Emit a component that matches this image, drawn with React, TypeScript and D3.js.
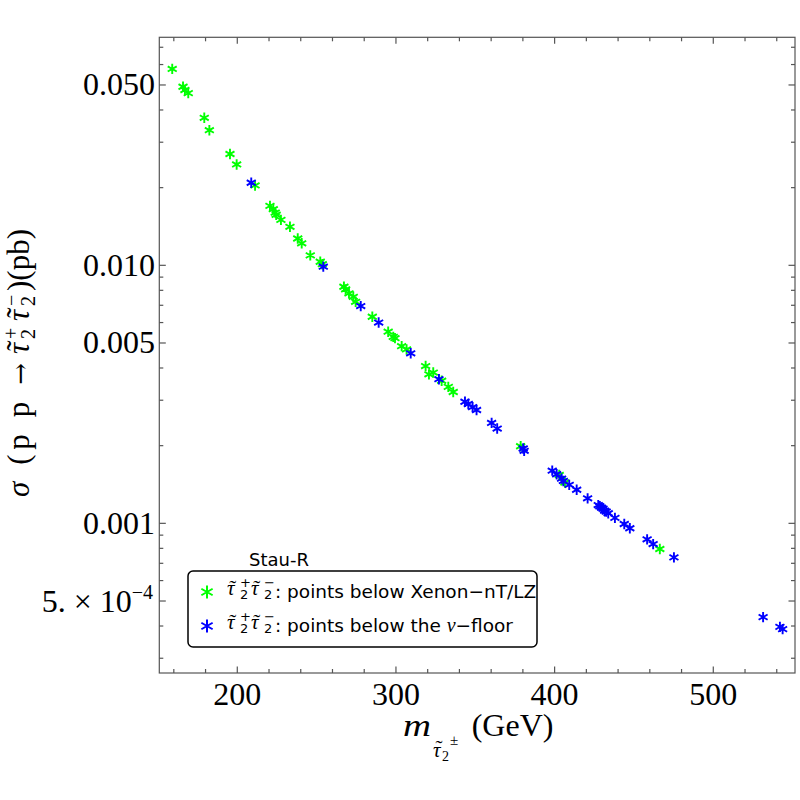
import React from "react";
import * as d3 from "d3";

// stau pair production cross-section vs stau mass
const greenMass = [159.0, 165.8, 167.0, 169.1, 179.2, 182.4, 195.4, 199.6, 211.2, 220.6, 222.7, 223.9, 224.5, 227.5, 233.2, 238.1, 240.6, 246.0, 252.3, 253.6, 267.2, 268.3, 270.4, 273.1, 274.6, 285.1, 295.1, 298.3, 299.4, 303.6, 306.7, 318.7, 320.8, 323.5, 328.8, 333.0, 336.1, 378.6, 402.9, 406.5, 466.3];
const greenSigma = [0.0577, 0.0492, 0.0478, 0.0465, 0.0373, 0.0334, 0.027, 0.0246, 0.0204, 0.017, 0.0165, 0.016, 0.0157, 0.015, 0.0141, 0.0127, 0.01217, 0.01093, 0.01032, 0.0101, 0.00826, 0.00807, 0.00779, 0.00755, 0.00722, 0.00632, 0.00553, 0.00528, 0.00522, 0.00486, 0.00472, 0.00407, 0.00378, 0.00384, 0.00357, 0.00338, 0.00323, 0.00199, 0.00154, 0.00144, 0.000795];

const blueMass = [208.8, 254.2, 277.8, 289.1, 309.3, 327.1, 343.5, 345.6, 348.3, 350.8, 360.3, 363.8, 380.2, 380.8, 398.5, 401.3, 404.4, 405.5, 409.2, 413.9, 420.8, 427.5, 428.5, 429.5, 430.5, 431.5, 432.5, 433.8, 438.0, 443.9, 447.4, 458.3, 462.1, 475.2, 531.4, 542.0, 543.7];
const blueSigma = [0.0209, 0.00988, 0.00695, 0.006, 0.00456, 0.00362, 0.00296, 0.0029, 0.00282, 0.00275, 0.00245, 0.00233, 0.00195, 0.00191, 0.0016, 0.00155, 0.00149, 0.00146, 0.00141, 0.00135, 0.00125, 0.001177, 0.001165, 0.00115, 0.00114, 0.00112, 0.00111, 0.001094, 0.00105, 0.000994, 0.000957, 0.000867, 0.000831, 0.000738, 0.000433, 0.000397, 0.000389];

const xMajor = [200, 300, 400, 500];
const xMinor = d3.range(160, 551, 20).filter((v) => v % 100 !== 0);
const yMajor = [0.05, 0.01, 0.005, 0.001, 0.0005];
const yMajorLabels = ["0.050", "0.010", "0.005", "0.001", "5. × 10"];
const yMinor = [0.0003, 0.0004, 0.0006, 0.0007, 0.0008, 0.0009, 0.002, 0.003, 0.004, 0.006, 0.007, 0.008, 0.009, 0.02, 0.03, 0.04, 0.06, 0.07];

const L = 159.3, R = 795, T = 37.3, B = 673;
const GREEN = "#00ff00";
const BLUE = "#0000ff";
const AXIS = "#555";
const SERIF = "'Liberation Serif', 'DejaVu Serif', serif";
const SANS = "'DejaVu Sans', sans-serif";

const x = d3.scaleLinear().domain([150.85, 551.5]).range([L, R]);
const y = d3.scaleLog().domain([2.63e-4, 0.07651]).range([B, T]);

// six-armed asterisk marker
function starPath(cx: number, cy: number, r: number) {
  const c = r * Math.cos(Math.PI / 6), s = r * Math.sin(Math.PI / 6);
  const p = d3.path();
  p.moveTo(cx, cy - r); p.lineTo(cx, cy + r);
  p.moveTo(cx - c, cy - s); p.lineTo(cx + c, cy + s);
  p.moveTo(cx - c, cy + s); p.lineTo(cx + c, cy - s);
  return p.toString();
}

// tspans for tau-tilde with stacked subscript 2 and superscript sign
function stau(key: string, u: number, v: number, fs: number, sub: number, sign: string, font: string, sx: number) {
  return [
    <tspan key={key + "t"} x={u} y={v} fontFamily={SERIF} fontStyle="italic" fontSize={fs}>τ</tspan>,
    <tspan key={key + "w"} x={u + fs * 0.27 - fs * 0.167} y={v - fs * 0.02} fontFamily={SERIF} fontStyle="normal" fontSize={fs}>˜</tspan>,
    <tspan key={key + "p"} x={u + sx} y={v - fs * 0.36} fontFamily={font} fontStyle="normal" fontSize={sub}>{sign}</tspan>,
    <tspan key={key + "s"} x={u + sx} y={v + fs * 0.2} fontFamily={font} fontStyle="normal" fontSize={sub}>2</tspan>,
  ];
}

export default function App() {
  const frame = (
    <g stroke={AXIS} strokeWidth={1.2} fill="none">
      <rect x={L} y={T} width={R - L} height={B - T} />
      {xMajor.map((v) => (
        <g key={"xM" + v}>
          <line x1={x(v)} x2={x(v)} y1={B} y2={B - 6.5} />
          <line x1={x(v)} x2={x(v)} y1={T} y2={T + 6.5} />
        </g>
      ))}
      {xMinor.map((v) => (
        <g key={"xm" + v}>
          <line x1={x(v)} x2={x(v)} y1={B} y2={B - 4} />
          <line x1={x(v)} x2={x(v)} y1={T} y2={T + 4} />
        </g>
      ))}
      {yMajor.map((v) => (
        <g key={"yM" + v}>
          <line x1={L} x2={L + 6.5} y1={y(v)} y2={y(v)} />
          <line x1={R} x2={R - 6.5} y1={y(v)} y2={y(v)} />
        </g>
      ))}
      {yMinor.map((v) => (
        <g key={"ym" + v}>
          <line x1={L} x2={L + 4} y1={y(v)} y2={y(v)} />
          <line x1={R} x2={R - 4} y1={y(v)} y2={y(v)} />
        </g>
      ))}
    </g>
  );

  const tickFs = 32;
  return (
    <svg width={800} height={800} style={{ position: "absolute", left: 0, top: 0 }}>
      <rect width={800} height={800} fill="white" />
      {frame}
      {xMajor.map((v) => (
        <text key={"xl" + v} x={x(v)} y={705} textAnchor="middle" fontFamily={SERIF} fontSize={tickFs}>{v}</text>
      ))}
      {yMajor.map((v, i) => (
        <text key={"yl" + v} x={i === 4 ? 153 : 155} y={y(v) + 10.5} textAnchor="end" fontFamily={SERIF} fontSize={tickFs}>
          {yMajorLabels[i]}
          {i === 4 && <tspan fontSize={20} dy={-13}>{"−4"}</tspan>}
        </text>
      ))}
      {/* points */}
      <g stroke={GREEN} strokeWidth={1.9} fill="none">
        {greenMass.map((m, i) => <path key={"g" + i} d={starPath(x(m), y(greenSigma[i]), 5.2)} />)}
      </g>
      <g stroke={BLUE} strokeWidth={1.9} fill="none">
        {blueMass.map((m, i) => <path key={"b" + i} d={starPath(x(m), y(blueSigma[i]), 5.2)} />)}
      </g>
      {/* x title */}
      <text fontFamily={SERIF} fontSize={32}>
        <tspan x={403} y={736} fontStyle="italic" textLength={28} lengthAdjust="spacingAndGlyphs">m</tspan>
        <tspan x={433} y={757} fontSize={21} fontStyle="italic">τ</tspan>
        <tspan x={435.5} y={755} fontSize={21}>˜</tspan>
        <tspan x={442} y={761} fontSize={14}>2</tspan>
        <tspan x={450} y={745} fontSize={15}>±</tspan>
        <tspan x={471.7} y={736}>(GeV)</tspan>
      </text>
      {/* y title */}
      <g transform="translate(29,497) rotate(-90)">
        <text fontFamily={SERIF} fontSize={31}>
          <tspan x={0} y={0} textLength={134} lengthAdjust="spacing">
            <tspan fontStyle="italic">σ</tspan>
            <tspan>{" (p p "}</tspan>
            <tspan fontFamily="'DejaVu Serif', serif" fontSize={26}>→</tspan>
          </tspan>
          {stau("a", 143, 0, 31, 20, "+", SERIF, 15)}
          {stau("b", 176, 0, 31, 20, "−", SERIF, 15)}
          <tspan x={206} y={0}>)(pb)</tspan>
        </text>
      </g>
      {/* legend */}
      <text x={249} y={566} fontFamily={SANS} fontSize={18}>Stau-R</text>
      <rect x={188} y={571} width={349} height={76} rx={5} fill="white" stroke="black" strokeWidth={1.5} />
      <path d={starPath(207, 592, 6.5)} stroke={GREEN} strokeWidth={2} />
      <path d={starPath(207, 626, 6.5)} stroke={BLUE} strokeWidth={2} />
      <text fontFamily={SANS} fontSize={18.5}>
        {stau("c", 227, 595, 21, 13, "+", SANS, 13)}
        {stau("d", 251, 595, 21, 13, "−", SANS, 13)}
        <tspan x={275} y={598}>: points below Xenon−nT/LZ</tspan>
      </text>
      <text fontFamily={SANS} fontSize={18.5}>
        {stau("e", 227, 629, 21, 13, "+", SANS, 13)}
        {stau("f", 251, 629, 21, 13, "−", SANS, 13)}
        <tspan x={275} y={632}>: points below the </tspan>
        <tspan fontFamily={SERIF} fontStyle="italic" fontSize={20}>ν</tspan>
        <tspan>−floor</tspan>
      </text>
    </svg>
  );
}
